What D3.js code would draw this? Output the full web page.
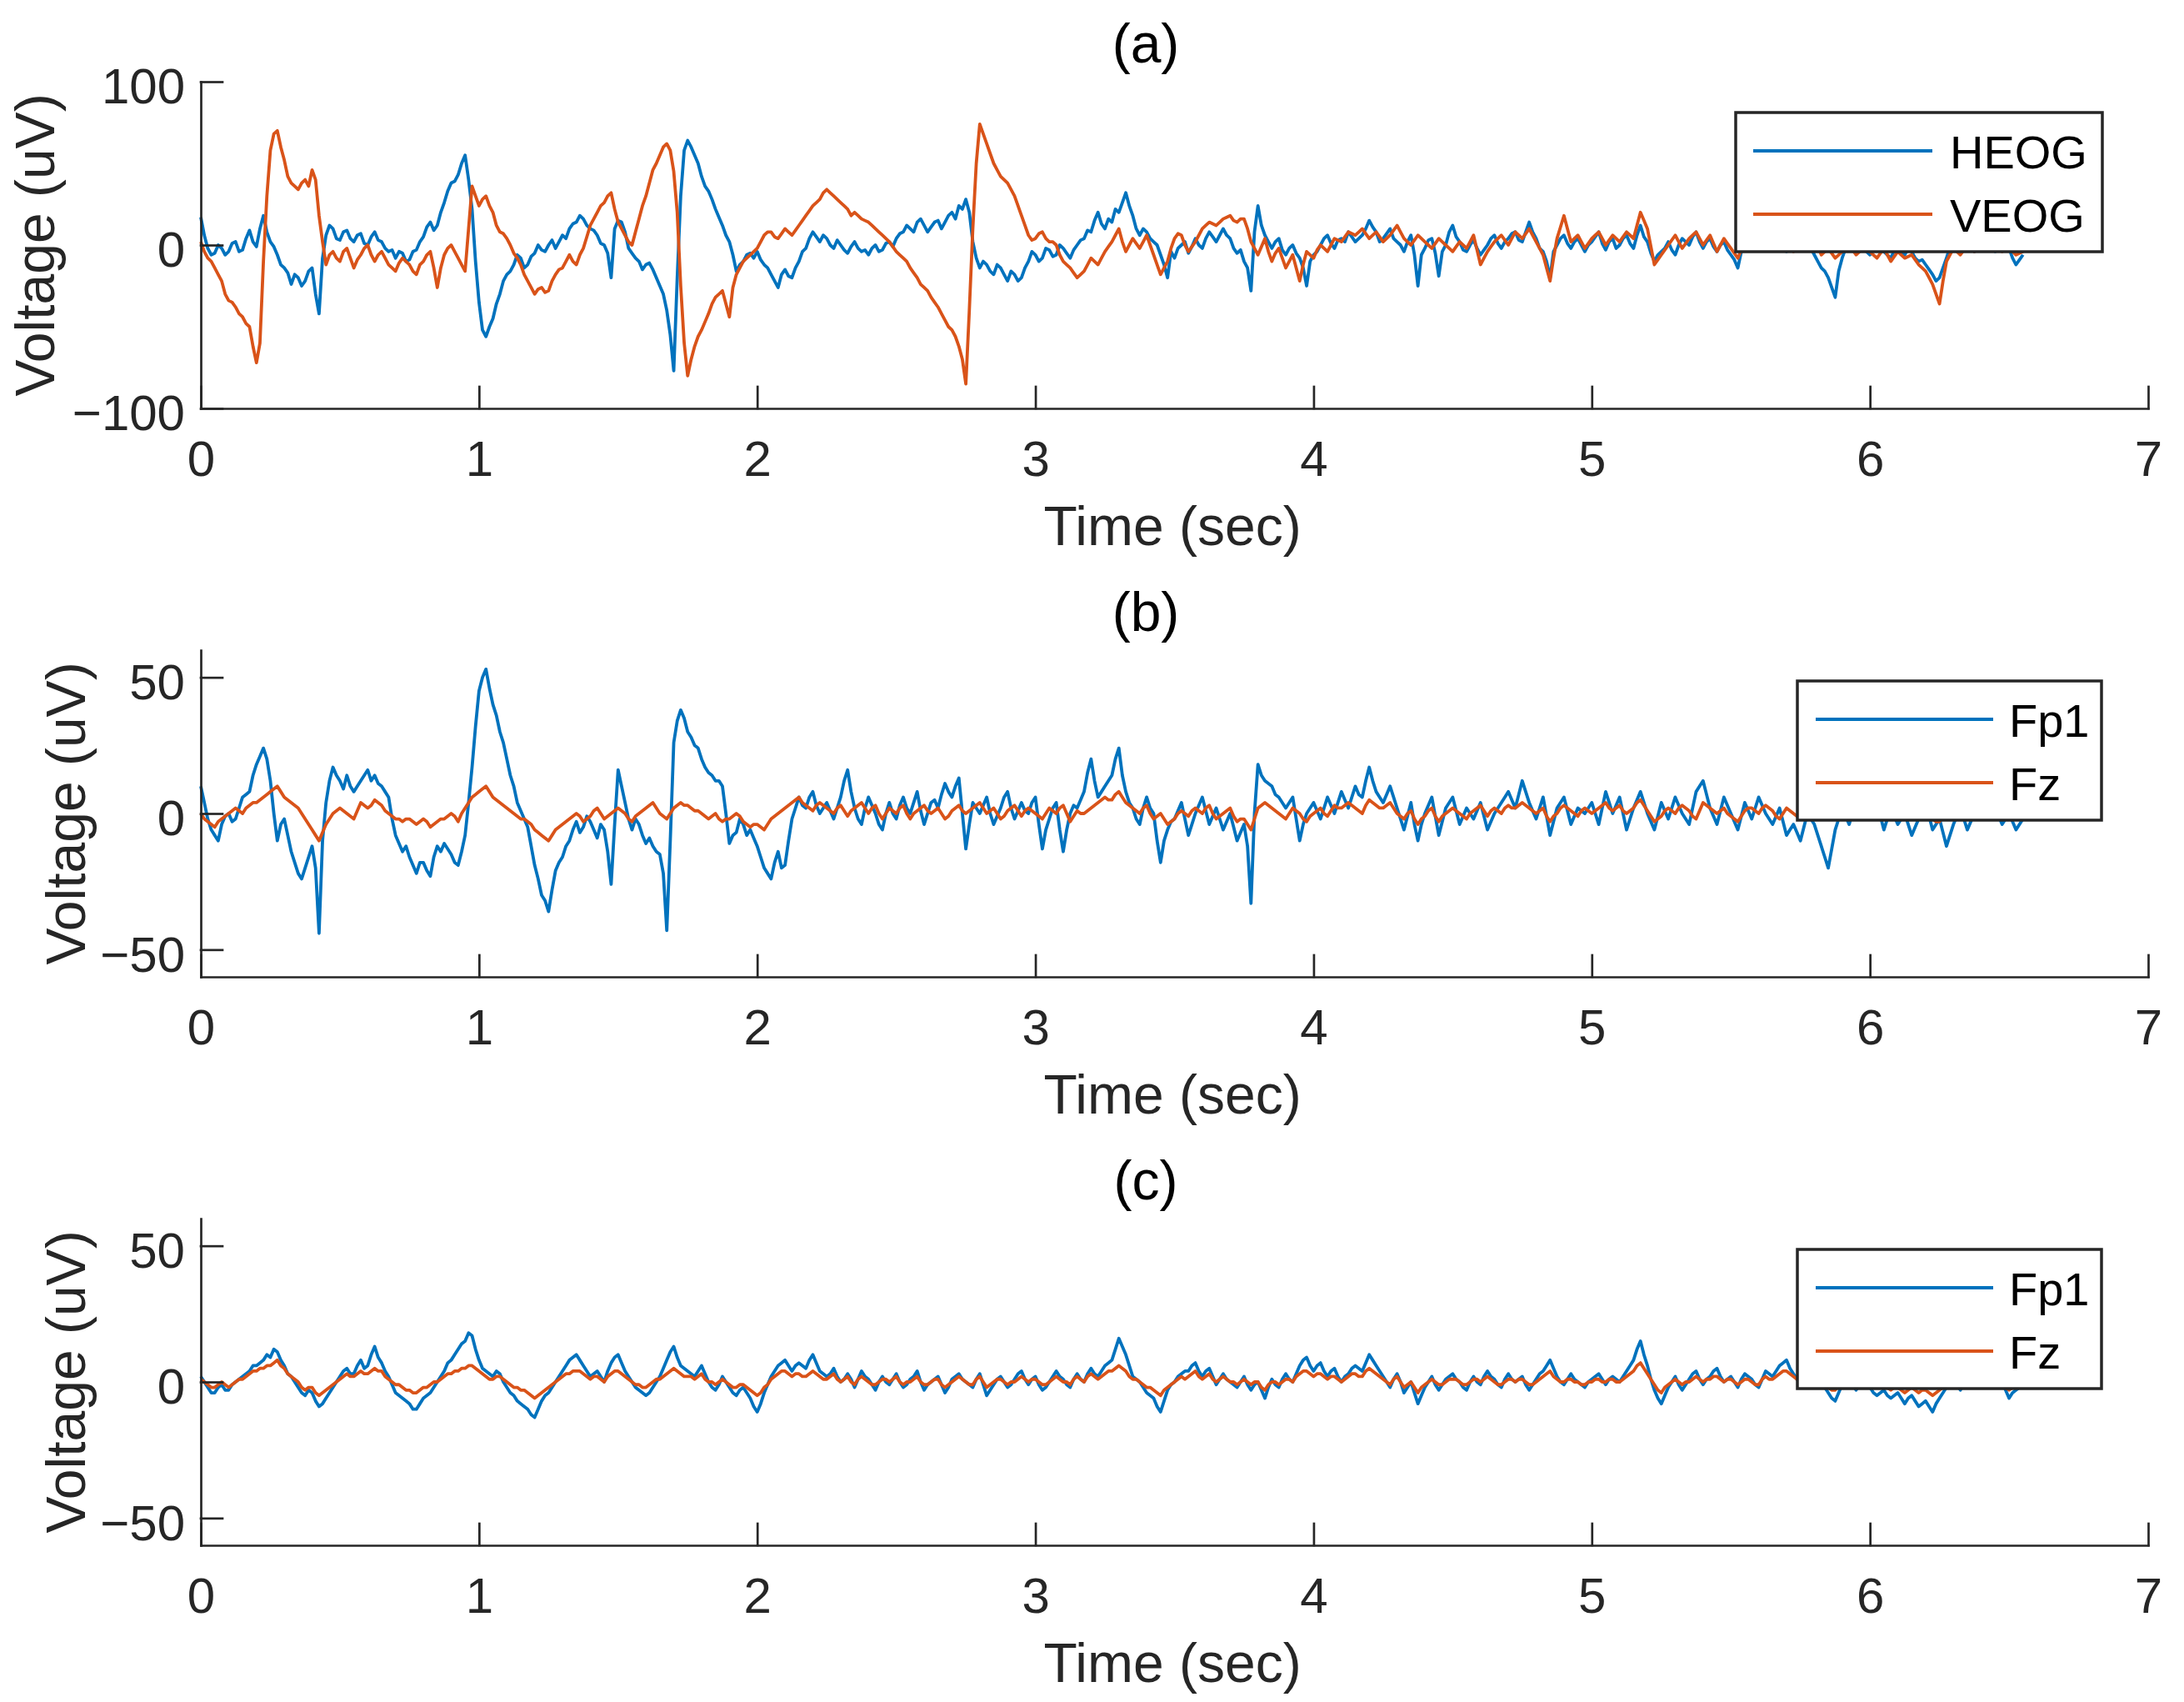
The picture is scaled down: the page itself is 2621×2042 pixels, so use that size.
<!DOCTYPE html>
<html>
<head>
<meta charset="utf-8">
<script src="https://cdn.jsdelivr.net/npm/d3@7"></script>
<style>
  body { margin: 0; background: #fff; }
  svg { display: block; font-family: "Liberation Sans", Arial, Helvetica, sans-serif; }
</style>
</head>
<body>
<svg id="chart"></svg>
<script>
const svgWidth = 2621;
const svgHeight = 2042;
const margin = { left: 241, right: 43 };
const panelTop0 = 98;
const panelStep = 682;
const panelHeight = 392;
const blue = "#0072BD";
const orange = "#D95319";
const axisColor = "#262626";

// sampling step of the read-off traces (sec)
const dt = 0.0125;
const xTicks = [0, 1, 2, 3, 4, 5, 6, 7];
const yTicksA = [-100, 0, 100];
const yTicksBC = [-50, 0, 50];
const titles = ["(a)", "(b)", "(c)"];

// panel (a), one row = 0.25 sec
const heog = [
  17, 6, -2, -6, -5, 0, -2, -6, -4, 1, 2, -4, -3, 4, 9, 2, -1, 10, 18, 8,
  2, -1, -6, -12, -14, -17, -24, -18, -20, -25, -22, -16, -14, -30, -42, -8, 6, 12, 10, 4,
  3, 8, 9, 4, 2, 6, 7, 1, 0, 5, 8, 3, 2, -2, -4, -3, -8, -4, -5, -10,
  -9, -4, -3, 2, 5, 11, 14, 9, 12, 20, 26, 33, 38, 39, 43, 50, 55, 40, 22, -10,
  -35, -52, -56, -50, -45, -36, -30, -22, -18, -16, -12, -6, -8, -14, -12, -7, -5, 0, -3, -4,
  0, 3, -2, 2, 6, 4, 10, 13, 14, 18, 16, 12, 10, 9, 6, 1, 0, -5, -20, 10,
  15, 14, 8, -2, -5, -8, -10, -15, -12, -11, -15, -20, -25, -30, -40, -55, -77, -20, 30, 58,
  64, 60, 55, 50, 42, 36, 33, 28, 22, 17, 12, 6, 2, -6, -16, -12, -10, -6, -5, -8,
  -4, -9, -12, -14, -18, -22, -26, -18, -15, -19, -20, -14, -10, -4, -2, 4, 8, 5, 2, 6,
  4, 0, -2, 3, 0, -3, -5, -1, 2, -2, -4, -3, -6, -2, 0, -4, -3, 1, 2, -1,
  4, 7, 8, 12, 10, 8, 14, 16, 12, 8, 11, 14, 15, 10, 14, 18, 20, 16, 24, 22,
  28, 20, 2, -8, -14, -10, -12, -16, -18, -12, -14, -18, -22, -16, -18, -22, -20, -14, -10, -4,
  -6, -10, -8, -2, -3, -7, -6, 0, -2, -5, -8, -3, 0, 3, 4, 9, 8, 15, 20, 13,
  10, 16, 14, 22, 20, 26, 32, 24, 18, 10, 6, 10, 8, 4, 2, 0, -6, -12, -20, -4,
  -8, -2, 0, 2, -5, -1, 4, 0, -2, 4, 8, 5, 2, 6, 10, 6, 4, -2, -5, -3,
  -10, -14, -28, 8, 24, 12, 6, 2, -2, 2, 4, -3, -6, -2, 0, -5, -8, -14, -25, -10,
  -6, -4, 0, 4, 6, 1, -2, 3, 4, 2, 8, 5, 2, 4, 6, 10, 15, 11, 8, 2,
  4, 7, 10, 4, 2, 0, -4, 2, 6, -6, -25, -6, -2, 3, 4, -5, -19, -4, 0, 8,
  12, 5, 2, -3, -4, 0, 3, -2, -6, -3, 0, 4, 6, 1, -2, 2, 4, 7, 8, 3,
  2, 8, 14, 8, 4, -2, -4, -10, -20, -4, 0, 4, 6, 1, -2, 2, 4, 0, -4, 0,
  2, 5, 8, 1, -3, 2, 4, -2, 0, 4, 6, 1, -2, 6, 12, 5, 2, -5, -10, -6,
  -4, -2, 2, -3, -6, 0, 4, 2, 0, 5, 8, 2, -2, 2, 4, -1, -4, 0, 2, -3,
  -6, -9, -14, -4, 4, 8, 10, 2, -2, 3, 6, 1, 0, 3, 4, -1, -4, -2, 2, 1,
  -2, 2, 4, -2, -6, -10, -14, -16, -20, -26, -32, -16, -8, -2, 2, -2, -4, -1, 0, -4,
  -6, -1, 2, -2, -4, -6, -8, -3, 0, -4, -6, -2, -4, -8, -10, -9, -12, -15, -18, -22,
  -20, -14, -8, -1, 4, 1, -2, 1, 2, -2, -4, -1, 0, 3, 2, -2, -4, -1, 0, -3,
  -2, -8, -12, -9, -6
];
const veog = [
  2, -4, -8, -10, -14, -18, -22, -30, -34, -35, -38, -42, -44, -48, -50, -62, -72, -60, -10, 30,
  58, 68, 70, 60, 52, 42, 38, 36, 34, 38, 40, 36, 46, 40, 18, 2, -12, -6, -4, -8,
  -10, -4, -2, -8, -14, -9, -6, -2, 0, -6, -10, -6, -4, -8, -12, -14, -16, -11, -8, -10,
  -12, -16, -18, -12, -10, -6, -4, -14, -26, -14, -6, -2, 0, -4, -8, -12, -16, 10, 36, 30,
  24, 28, 30, 24, 20, 12, 8, 7, 4, 0, -5, -8, -12, -18, -22, -26, -30, -27, -26, -29,
  -28, -22, -18, -15, -14, -10, -6, -10, -12, -6, -2, 5, 12, 16, 20, 24, 26, 30, 32, 22,
  14, 10, 6, 2, 0, 8, 16, 24, 30, 38, 46, 50, 55, 60, 62, 58, 45, 20, -25, -60,
  -80, -70, -62, -56, -52, -47, -42, -36, -32, -30, -28, -36, -44, -26, -18, -14, -10, -8, -6, -4,
  -2, 2, 6, 8, 8, 5, 4, 7, 10, 8, 6, 9, 12, 15, 18, 21, 24, 26, 28, 32,
  34, 32, 30, 28, 26, 24, 22, 18, 20, 18, 16, 15, 14, 12, 10, 8, 6, 4, 2, -1,
  -4, -6, -8, -10, -14, -17, -20, -24, -26, -28, -32, -35, -38, -42, -46, -50, -52, -56, -62, -70,
  -85, -40, 10, 50, 74, 68, 62, 56, 50, 46, 42, 40, 38, 34, 30, 24, 18, 12, 6, 3,
  4, 7, 8, 4, 2, 2, 0, -6, -10, -12, -14, -17, -20, -18, -16, -12, -8, -10, -12, -8,
  -4, -1, 2, 6, 10, 2, -4, 0, 4, 1, -2, 2, 6, 0, -6, -12, -18, -14, -10, -2,
  4, 7, 6, 0, -4, -1, 2, 6, 10, 12, 14, 13, 12, 14, 16, 17, 18, 15, 14, 16,
  16, 10, 2, -2, -6, -1, 4, -4, -10, -5, -2, -8, -14, -10, -6, -14, -22, -12, -4, -6,
  -8, -3, 0, -2, -4, 0, 4, 3, 2, 5, 8, 7, 6, 8, 10, 7, 4, 6, 8, 5,
  2, 4, 6, 9, 12, 8, 4, 2, 0, 3, 6, 4, 2, 0, -2, 1, 4, 2, 0, -2,
  -4, -1, 2, 0, -2, 2, 6, -3, -12, -8, -4, -1, 2, 4, 6, 3, 0, 4, 8, 6,
  4, 7, 10, 6, 2, -2, -6, -14, -22, -8, 4, 11, 18, 10, 2, 4, 6, 2, -2, 1,
  4, 6, 8, 4, 0, 3, 6, 4, 2, 5, 8, 6, 4, 12, 20, 15, 10, -1, -12, -9,
  -6, -3, 0, 3, 6, 2, -2, 1, 4, 6, 8, 4, 0, 3, 6, 1, -4, 0, 4, 1,
  -2, -5, -8, -3, 2, 4, 6, 3, 0, 2, 4, 1, -2, 2, 6, 4, 2, -1, -4, -1,
  2, 0, -2, 1, 4, -1, -6, -4, -2, -5, -8, -6, -4, -2, 0, -3, -6, -4, -2, -3,
  -4, -6, -8, -5, -2, -6, -10, -7, -4, -6, -8, -7, -6, -9, -12, -14, -16, -20, -24, -30,
  -36, -22, -10, -6, -2, -4, -6, -3, 0, -2, -4, -1, 2, 0, -2, -1, 0, -2, -4, -3,
  -2, -4, -6, -5, -4
];

// panel (b)
const fp1B = [
  10, 4, -2, -6, -8, -10, -4, -1, 0, -3, -2, 2, 6, 7, 8, 14, 18, 21, 24, 20,
  12, 0, -10, -4, -2, -8, -14, -18, -22, -24, -20, -16, -12, -20, -44, -10, 4, 12, 17, 14,
  12, 9, 14, 10, 8, 10, 12, 14, 16, 12, 14, 11, 10, 8, 6, -2, -8, -11, -14, -12,
  -16, -19, -22, -18, -18, -21, -23, -16, -12, -14, -11, -13, -15, -18, -19, -14, -8, 4, 17, 32,
  45, 50, 53, 46, 40, 36, 30, 26, 20, 14, 10, 4, 1, -2, -5, -12, -19, -24, -30, -32,
  -36, -28, -21, -18, -16, -12, -10, -6, -3, -7, -5, -1, -3, -6, -9, -4, -6, -14, -26, -4,
  16, 10, 4, -2, -6, -2, -4, -8, -11, -9, -12, -14, -15, -22, -43, -10, 26, 34, 38, 35,
  30, 28, 25, 24, 20, 17, 15, 14, 12, 12, 10, 0, -11, -8, -7, -2, -4, -8, -6, -9,
  -12, -16, -20, -22, -24, -18, -14, -20, -19, -10, -2, 2, 6, 3, 2, 6, 8, 3, 0, 2,
  4, 1, -2, 2, 6, 12, 16, 8, 2, -2, -4, 2, 6, 3, 0, -4, -6, 0, 4, 0,
  -2, 3, 6, 2, 0, 4, 8, 1, -4, 0, 4, 5, 2, 7, 11, 8, 6, 10, 13, 0,
  -13, -4, 4, 2, 0, 3, 6, 0, -4, -1, 2, 6, 8, 2, -2, 1, 4, 1, 0, 4,
  6, -4, -13, -6, -2, 2, 4, -6, -14, -6, 0, 3, 2, 5, 8, 15, 20, 12, 6, 8,
  10, 12, 14, 20, 24, 14, 8, 4, 2, -2, -4, 2, 6, 2, 0, -10, -18, -10, -6, -3,
  -2, 1, 4, -2, -8, -4, 0, 3, 6, 1, -4, -1, 2, -2, -6, -3, 0, -5, -10, -7,
  -4, -12, -33, 0, 18, 14, 12, 11, 10, 7, 6, 4, 2, 4, 6, -2, -10, -4, 0, 2,
  4, 1, -2, 2, 6, 3, 0, 4, 8, 5, 2, 6, 10, 7, 6, 12, 17, 12, 8, 6,
  4, 7, 10, 6, 2, -2, -6, -1, 4, -4, -10, -4, 0, 3, 6, -1, -8, -3, 2, 4,
  6, 1, -4, -1, 2, 0, -2, 1, 4, -1, -6, -3, 0, 2, 4, 6, 8, 5, 2, 7,
  12, 8, 4, 1, -2, 2, 6, -1, -8, -3, 2, 4, 6, 1, -4, -1, 2, 1, 0, 2,
  4, 0, -4, 2, 8, 4, 0, 3, 6, 0, -6, -2, 2, 5, 8, 4, 0, -3, -6, -1,
  4, 1, -2, 2, 6, 3, 0, -2, -4, 2, 8, 10, 12, 7, 2, -1, -4, 1, 6, 3,
  0, -3, -6, -1, 4, 1, -2, 2, 6, 3, 0, -2, -4, -1, 2, -3, -8, -6, -4, -7,
  -10, -5, 0, -2, -4, -8, -12, -16, -20, -13, -6, -2, 2, -1, -4, 0, 4, 2, 0, -1,
  -2, 1, 4, -1, -6, -2, 2, -1, -4, -2, 0, -4, -8, -5, -2, 1, 4, -1, -6, -4,
  -2, -7, -12, -8, -4, -1, 2, -2, -6, -3, 0, 2, 4, 1, -2, 0, 2, -1, -4, -2,
  0, -3, -6, -4, -2
];
const fzB = [
  0, -2, -3, -4, -5, -3, -2, -1, 0, 1, 2, 1, 0, 2, 3, 4, 4, 5, 6, 7,
  8, 9, 10, 8, 6, 5, 4, 3, 2, 0, -2, -4, -6, -8, -10, -7, -4, -2, 0, 1,
  2, 1, 0, -1, -2, 1, 4, 3, 2, 3, 5, 4, 3, 1, 0, -1, -2, -2, -3, -2,
  -2, -3, -4, -3, -2, -3, -5, -4, -3, -2, -2, -1, 0, -1, -3, 0, 2, 4, 6, 7,
  8, 9, 10, 8, 6, 5, 4, 3, 2, 1, 0, -1, -2, -2, -3, -4, -6, -7, -8, -9,
  -10, -8, -6, -5, -4, -3, -2, -1, 0, -1, -3, -2, -1, 1, 2, 0, -2, -1, 0, 1,
  2, 1, 0, -2, -3, -1, 0, 1, 2, 3, 4, 2, 0, -1, -2, 0, 2, 3, 4, 3,
  3, 2, 1, 1, 0, -1, -2, -1, 0, -2, -3, -2, -2, -1, 0, -1, -3, -4, -5, -4,
  -4, -5, -6, -4, -2, -1, 0, 1, 2, 3, 4, 5, 6, 4, 3, 2, 1, 3, 4, 3,
  2, 1, 0, 2, 3, 1, -1, 1, 2, 3, 4, 2, 0, 2, 3, 0, -2, 0, 2, 1,
  0, 2, 3, 0, -2, 0, 1, 2, 3, 1, 0, 1, 2, 0, -2, -1, 1, 2, 3, 1,
  0, 1, 2, 3, 4, 2, 0, 1, 2, 0, -2, -1, 1, 2, 3, 1, -1, 1, 2, 1,
  0, -1, -2, 0, 2, 1, 0, 2, 3, 0, -3, -1, 1, 0, 0, 1, 2, 3, 4, 5,
  6, 5, 5, 7, 8, 6, 4, 3, 2, 1, 0, 2, 3, 0, -2, -1, 0, -2, -4, -3,
  -2, 0, 1, 0, -1, 1, 2, 1, 0, 2, 3, 0, -2, -1, 0, 1, 2, -1, -3, -2,
  -2, -4, -6, -2, 2, 3, 4, 3, 2, 1, 0, -1, -2, 0, 2, 1, 0, -2, -3, -1,
  0, 1, 2, 0, -1, 1, 3, 2, 2, 3, 4, 3, 2, 1, 0, 3, 5, 4, 3, 2,
  2, 3, 4, 2, 0, -1, -2, 0, 1, -2, -4, -2, -1, 1, 2, -1, -3, -1, 0, 1,
  2, 1, 0, -1, -2, 0, 1, 2, 3, 1, -1, 1, 2, 1, 0, 2, 3, 2, 2, 3,
  4, 3, 2, 1, 0, 1, 2, -1, -3, -1, 0, 2, 3, 2, 1, 0, -1, 1, 2, 1,
  0, 1, 2, 3, 4, 2, 1, 2, 3, 1, 0, 1, 2, 4, 5, 3, 1, -1, -3, -2,
  -1, 1, 2, 1, 0, 2, 3, 2, 1, -1, -2, 1, 4, 3, 2, 1, 0, 1, 2, 0,
  -1, -2, -3, -1, 1, 2, 2, 1, 0, 2, 3, 2, 1, -1, -2, 0, 2, 1, 0, -1,
  -2, -1, 1, 2, 3, 1, 0, -1, -2, 0, 2, 1, 0, -1, -1, 1, 2, 2, 1, 0,
  0, 2, 3, 1, -1, 1, 2, 3, 4, 2, 0, 1, 2, 4, 5, 3, 1, -1, -2, -3,
  -3, -1, 0, 1, 2, 0, -1, 1, 3, 2, 1, 0, 0, 1, 2, 0, -2, -1, 1, 0,
  0, -1, -2, -2, -1
];

// panel (c)
const fp1C = [
  2, 0, -2, -4, -4, -2, -1, -3, -3, -1, 0, 1, 2, 3, 4, 6, 6, 7, 8, 10,
  9, 12, 11, 8, 6, 3, 2, 0, -2, -4, -5, -3, -4, -7, -9, -8, -6, -4, -2, 0,
  2, 4, 5, 3, 3, 6, 8, 5, 6, 10, 13, 9, 7, 4, 2, -1, -4, -5, -6, -7,
  -8, -10, -10, -8, -6, -5, -4, -2, 0, 2, 4, 7, 8, 10, 12, 14, 15, 18, 17, 12,
  8, 5, 4, 3, 2, 4, 3, 0, -2, -4, -5, -7, -8, -9, -10, -12, -13, -10, -7, -5,
  -4, -2, 0, 2, 4, 6, 8, 9, 10, 8, 6, 4, 2, 3, 4, 2, 0, 4, 7, 9,
  10, 7, 4, 2, 0, -2, -3, -4, -5, -4, -2, 0, 2, 5, 8, 11, 13, 9, 6, 5,
  4, 3, 2, 4, 6, 3, 0, -2, -3, -1, 2, 0, -2, -4, -5, -3, -2, -4, -6, -9,
  -11, -8, -4, -1, 2, 4, 6, 7, 8, 6, 4, 6, 7, 6, 5, 8, 10, 7, 4, 3,
  2, 3, 5, 2, 0, 1, 3, 1, -2, 1, 4, 2, 1, -1, -3, 0, 2, 0, -1, 1,
  3, 0, -2, -1, 1, 2, 4, 0, -3, -1, 0, 1, 2, -1, -4, -2, 1, 2, 3, 1,
  0, -1, -2, 1, 3, -1, -5, -3, -1, 1, 2, 0, -2, -1, 1, 3, 4, 1, -1, 1,
  2, -1, -3, -2, 0, 2, 4, 2, 1, -1, -2, 1, 3, 1, 0, 3, 5, 3, 2, 4,
  6, 7, 8, 12, 16, 13, 10, 6, 2, 1, 0, -2, -4, -5, -6, -9, -11, -7, -3, -1,
  0, 2, 3, 4, 4, 6, 7, 4, 2, 4, 5, 2, -1, 1, 3, 1, 0, -1, -2, 0,
  2, -1, -3, -1, 0, -3, -6, -2, 1, -1, -2, 1, 3, 1, 0, 3, 6, 8, 9, 6,
  4, 6, 7, 4, 2, 4, 5, 2, 0, 2, 3, 5, 6, 5, 4, 7, 10, 8, 6, 4,
  2, 0, -2, 1, 3, 0, -4, -2, 0, -4, -8, -5, -2, 0, 2, -1, -3, -1, 1, 2,
  3, 1, 0, -2, -3, 0, 2, 0, -1, 2, 4, 2, 1, -1, -2, 1, 3, 1, 0, 1,
  2, -1, -3, -1, 1, 3, 4, 6, 8, 5, 2, 0, -1, 1, 3, 1, 0, -1, -2, 0,
  1, 2, 3, 1, -1, 1, 2, 1, 0, 2, 4, 6, 8, 12, 15, 10, 6, 1, -3, -6,
  -8, -5, -2, 0, 2, -1, -3, -1, 1, 3, 4, 1, -1, 1, 2, 4, 5, 2, 0, 1,
  2, 0, -2, 1, 3, 2, 1, -1, -2, 1, 4, 3, 2, 4, 6, 7, 8, 5, 3, 1,
  0, 2, 3, 0, -2, -1, 1, -2, -4, -6, -7, -4, -1, 1, 2, -1, -3, -1, 0, -1,
  -2, -4, -5, -4, -3, -5, -6, -5, -4, -6, -8, -6, -5, -7, -9, -8, -7, -9, -11, -8,
  -6, -4, -2, 0, 1, -1, -3, 0, 2, 0, -1, 1, 3, 1, 0, -1, -2, 0, 1, -3,
  -6, -4, -3, -2, -1
];
const fzC = [
  1, 0, -1, -2, -2, -1, 0, -1, -2, -1, 0, 1, 1, 2, 3, 4, 4, 5, 5, 6,
  6, 7, 8, 6, 5, 3, 2, 1, 0, -2, -3, -2, -2, -4, -5, -4, -3, -2, -1, 0,
  1, 2, 3, 2, 2, 3, 4, 3, 3, 4, 5, 4, 4, 2, 1, 0, -1, -1, -2, -3,
  -3, -4, -4, -3, -2, -2, -1, 0, 0, 1, 2, 3, 3, 4, 4, 5, 5, 6, 6, 5,
  4, 3, 2, 1, 1, 2, 2, 1, 0, -1, -2, -2, -3, -3, -4, -5, -6, -5, -4, -3,
  -2, -1, 0, 1, 2, 3, 3, 4, 4, 4, 3, 2, 1, 2, 2, 1, 0, 2, 3, 4,
  4, 3, 2, 1, 0, -1, -1, -2, -2, -1, 0, 1, 1, 2, 3, 4, 5, 4, 3, 2,
  2, 2, 1, 2, 3, 1, 0, 0, -1, 0, 1, 0, -1, -2, -2, -1, -1, -2, -3, -4,
  -5, -4, -2, -1, 1, 2, 3, 4, 4, 3, 2, 3, 3, 2, 2, 3, 4, 3, 2, 1,
  1, 2, 3, 1, 0, 1, 2, 0, -1, 1, 2, 1, 0, -1, -1, 0, 1, 1, 0, 1,
  2, 0, -1, 0, 0, 1, 2, 0, -1, -1, 0, 1, 1, -1, -2, -1, 0, 1, 2, 1,
  0, -1, -1, 1, 2, 0, -2, -1, 0, 1, 1, 0, -1, 0, 0, 1, 2, 1, 0, 1,
  1, 0, -1, -1, 0, 1, 2, 1, 0, 0, -1, 1, 2, 1, 0, 2, 3, 2, 1, 2,
  3, 4, 4, 5, 6, 5, 4, 2, 1, 1, 0, -1, -2, -2, -3, -4, -5, -3, -2, -1,
  0, 1, 2, 1, 2, 3, 4, 2, 1, 2, 3, 1, 0, 1, 2, 1, 0, 0, -1, 0,
  1, 0, -1, 0, 0, -2, -3, -1, 0, 0, -1, 0, 1, 1, 0, 2, 3, 4, 4, 3,
  2, 3, 3, 2, 1, 2, 2, 1, 0, 1, 2, 3, 3, 2, 2, 4, 5, 4, 3, 2,
  1, 0, -1, 1, 2, 0, -2, -1, 0, -2, -4, -2, -1, 0, 1, 0, -1, -1, 0, 1,
  1, 1, 0, -1, -1, 0, 1, 1, 0, 1, 2, 1, 0, -1, -1, 0, 1, 1, 0, 1,
  1, 0, -1, -1, 0, 1, 2, 3, 4, 2, 1, 0, 0, 1, 1, 0, 0, -1, -1, 0,
  0, 1, 1, 0, 0, 1, 1, 0, 0, 1, 2, 3, 4, 6, 7, 5, 3, 1, -1, -3,
  -4, -2, -1, 0, 1, 0, -1, 0, 0, 1, 2, 1, 0, 1, 1, 2, 2, 1, 0, 1,
  1, 0, -1, 0, 1, 1, 0, -1, -1, 1, 2, 1, 1, 2, 3, 4, 4, 3, 2, 1,
  0, 1, 1, 0, -1, 0, 0, -1, -2, -3, -3, -1, 0, 1, 1, 0, -1, 0, 0, -1,
  -1, -2, -2, -1, -1, -2, -3, -2, -2, -3, -4, -3, -2, -3, -4, -3, -3, -4, -5, -4,
  -3, -2, -1, 0, 0, -1, -1, 0, 1, 0, 0, 1, 1, 0, 0, -1, -1, 0, 0, -2,
  -3, -2, -2, -1, -1
];

const panels = [
  { yMax: 100, yTicks: yTicksA, series: [heog, veog], names: ["HEOG", "VEOG"], labelX: 65,
    legend: { left: 2083, width: 440, line: [21, 236], text: 257 } },
  { yMax: 60, yTicks: yTicksBC, series: [fp1B, fzB], names: ["Fp1", "Fz"], labelX: 102,
    legend: { left: 2157, width: 365, line: [22, 235], text: 254 } },
  { yMax: 60, yTicks: yTicksBC, series: [fp1C, fzC], names: ["Fp1", "Fz"], labelX: 102,
    legend: { left: 2157, width: 365, line: [22, 235], text: 254 } }
];

const svg = d3.select("#chart")
  .attr("width", svgWidth)
  .attr("height", svgHeight);

const x = d3.scaleLinear().domain([0, 7]).range([margin.left, svgWidth - margin.right]);

const drawPanel = (p, i) => {
  const top = panelTop0 + i * panelStep;
  const bottom = top + panelHeight;
  const y = d3.scaleLinear().domain([-p.yMax, p.yMax]).range([bottom, top]);
  const colors = [blue, orange];

  // traces
  p.series.forEach((vals, k) => {
    const line = d3.line()
      .x((d, j) => x(j * dt))
      .y(d => y(d));
    svg.append("path")
      .datum(vals)
      .attr("fill", "none")
      .attr("stroke", colors[k])
      .attr("stroke-width", 3.8)
      .attr("stroke-linejoin", "round")
      .attr("d", line);
  });

  // axes (ticks point inward, like matlab)
  const gx = svg.append("g")
    .attr("transform", "translate(0," + bottom + ")")
    .call(d3.axisBottom(x).tickValues(xTicks).tickSizeInner(-26).tickSizeOuter(0).tickPadding(38)
      .tickFormat(d3.format("d")));
  const gy = svg.append("g")
    .attr("transform", "translate(" + margin.left + ",0)")
    .call(d3.axisLeft(y).tickValues(p.yTicks).tickSizeInner(-26).tickSizeOuter(0).tickPadding(19)
      .tickFormat(d3.format("d")));

  [gx, gy].forEach(g => {
    g.attr("color", axisColor)
      .attr("font-family", null)
      .attr("font-size", null);
    g.selectAll("path, line")
      .attr("stroke-width", 2.7)
      .attr("stroke-linecap", "square");
    g.selectAll("text")
      .style("font-size", "60px")
      .attr("fill", axisColor);
  });
  gy.selectAll("text").attr("dy", "0.43em");

  // titles and labels
  svg.append("text")
    .attr("x", 1375)
    .attr("y", top - 23)
    .attr("text-anchor", "middle")
    .style("font-size", "66px")
    .attr("fill", "#000")
    .text(titles[i]);

  svg.append("text")
    .attr("x", 1407)
    .attr("y", bottom + 164)
    .attr("text-anchor", "middle")
    .style("font-size", "66px")
    .attr("fill", axisColor)
    .text("Time (sec)");

  svg.append("text")
    .attr("transform", "translate(" + p.labelX + "," + ((top + bottom) / 2) + ") rotate(-90)")
    .attr("text-anchor", "middle")
    .style("font-size", "66px")
    .attr("fill", axisColor)
    .text("Voltage (uV)");

  // legend
  const lg = p.legend;
  const lt = top + 37;
  svg.append("rect")
    .attr("x", lg.left)
    .attr("y", lt)
    .attr("width", lg.width)
    .attr("height", 167)
    .attr("fill", "#fff")
    .attr("stroke", axisColor)
    .attr("stroke-width", 3.5);

  p.names.forEach((name, k) => {
    const ly = lt + 46 + k * 76;
    svg.append("line")
      .attr("x1", lg.left + lg.line[0])
      .attr("x2", lg.left + lg.line[1])
      .attr("y1", ly)
      .attr("y2", ly)
      .attr("stroke", colors[k])
      .attr("stroke-width", 4);
    svg.append("text")
      .attr("x", lg.left + lg.text)
      .attr("y", ly + 21)
      .style("font-size", "56px")
      .attr("fill", "#000")
      .text(name);
  });
};

panels.forEach(drawPanel);
</script>
</body>
</html>
